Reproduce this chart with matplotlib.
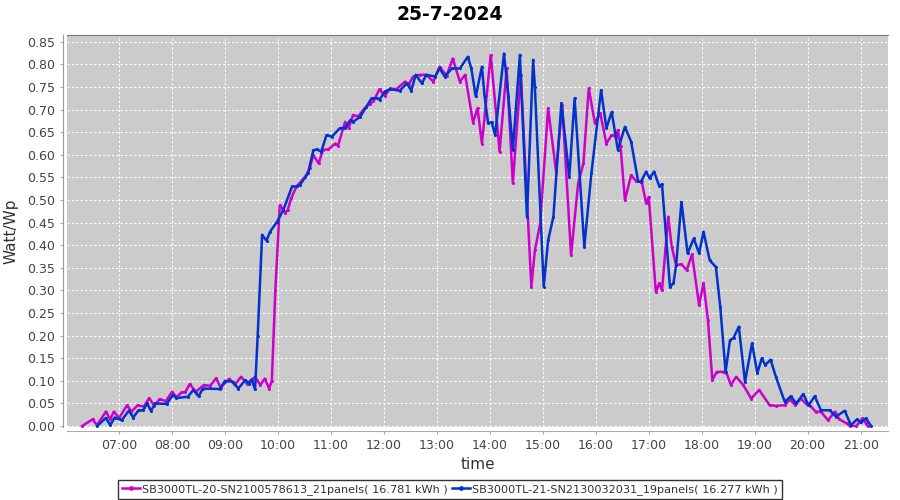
import matplotlib
matplotlib.use("Agg")
import matplotlib.pyplot as plt
from matplotlib.ticker import FixedLocator, FuncFormatter

title = "25-7-2024"
x_label = "time"
y_label = "Watt/Wp"
name_a = "SB3000TL-20-SN2100578613_21panels( 16.781 kWh )"
name_b = "SB3000TL-21-SN2130032031_19panels( 16.277 kWh )"

times_a = ["06:18", "06:30", "06:35", "06:45", "06:50", "06:54", "07:00", "07:09", "07:14", "07:21",
           "07:28", "07:34", "07:40", "07:46", "07:53", "08:00", "08:05", "08:11", "08:15", "08:20",
           "08:27", "08:36", "08:43", "08:50", "08:55", "09:05", "09:11", "09:18", "09:25", "09:34",
           "09:40", "09:45", "09:50", "09:53", "09:57", "10:02", "10:08", "10:11", "10:15", "10:21",
           "10:31", "10:36", "10:40", "10:46", "10:51", "10:57", "11:05", "11:08", "11:16", "11:20",
           "11:25", "11:31", "11:38", "11:44", "11:48", "11:55", "12:01", "12:07", "12:14", "12:24",
           "12:28", "12:33", "12:41", "12:48", "12:56", "13:03", "13:11", "13:18", "13:26", "13:32",
           "13:41", "13:46", "13:51", "14:01", "14:11", "14:19", "14:26", "14:35", "14:47", "14:51",
           "14:57", "15:06", "15:15", "15:22", "15:32", "15:40", "15:46", "15:52", "15:59", "16:05",
           "16:12", "16:18", "16:23", "16:25", "16:28", "16:33", "16:40", "16:46", "16:52", "16:57",
           "17:00", "17:08", "17:12", "17:15", "17:22", "17:26", "17:31", "17:37", "17:43", "17:49",
           "17:57", "18:02", "18:07", "18:12", "18:17", "18:24", "18:28", "18:33", "18:39", "18:47",
           "18:56", "19:05", "19:17", "19:24", "19:34", "19:40", "19:46", "19:52", "20:00", "20:03",
           "20:09", "20:15", "20:23", "20:31", "20:36", "20:44", "20:48", "20:55", "21:02", "21:06",
           "21:08"]
values_a = [0.000, 0.015, 0.002, 0.032, 0.015, 0.032, 0.018, 0.046, 0.032, 0.046,
            0.043, 0.062, 0.045, 0.060, 0.055, 0.076, 0.064, 0.075, 0.075, 0.093,
            0.076, 0.091, 0.089, 0.106, 0.085, 0.105, 0.091, 0.109, 0.094, 0.109,
            0.091, 0.105, 0.083, 0.100, 0.300, 0.489, 0.472, 0.478, 0.504, 0.530,
            0.552, 0.570, 0.600, 0.581, 0.611, 0.612, 0.625, 0.620, 0.673, 0.659,
            0.688, 0.685, 0.703, 0.713, 0.718, 0.745, 0.730, 0.747, 0.745, 0.762,
            0.755, 0.773, 0.777, 0.777, 0.762, 0.795, 0.775, 0.813, 0.762, 0.777,
            0.671, 0.703, 0.625, 0.821, 0.607, 0.791, 0.537, 0.777, 0.308, 0.389,
            0.448, 0.703, 0.563, 0.710, 0.378, 0.537, 0.581, 0.747, 0.670, 0.692,
            0.625, 0.644, 0.640, 0.655, 0.620, 0.500, 0.555, 0.541, 0.541, 0.493,
            0.507, 0.297, 0.316, 0.300, 0.463, 0.397, 0.356, 0.358, 0.345, 0.380,
            0.268, 0.316, 0.235, 0.102, 0.120, 0.120, 0.118, 0.091, 0.109, 0.091,
            0.061, 0.080, 0.046, 0.045, 0.046, 0.059, 0.046, 0.061, 0.046, 0.045,
            0.032, 0.032, 0.013, 0.032, 0.015, 0.006, 0.000, 0.000, 0.017, 0.006,
            0.000]

times_b = ["06:35", "06:45", "06:50", "06:55", "07:03", "07:11", "07:16", "07:22", "07:27", "07:32",
           "07:36", "07:41", "07:54", "08:01", "08:05", "08:18", "08:24", "08:30", "08:35", "08:54",
           "09:00", "09:09", "09:15", "09:23", "09:27", "09:30", "09:34", "09:37", "09:42", "09:47",
           "09:51", "09:59", "10:06", "10:16", "10:21", "10:25", "10:34", "10:40", "10:44", "10:49",
           "10:55", "11:01", "11:10", "11:16", "11:22", "11:25", "11:33", "11:40", "11:46", "11:52",
           "11:55", "12:01", "12:07", "12:18", "12:26", "12:31", "12:36", "12:43", "12:48", "12:58",
           "13:03", "13:09", "13:17", "13:26", "13:35", "13:39", "13:44", "13:51", "13:54", "13:58",
           "14:02", "14:06", "14:16", "14:21", "14:26", "14:34", "14:42", "14:49", "14:51", "15:01",
           "15:06", "15:12", "15:21", "15:30", "15:36", "15:47", "15:55", "16:06", "16:12", "16:18",
           "16:25", "16:33", "16:40", "16:48", "16:51", "16:57", "17:01", "17:06", "17:12", "17:15",
           "17:24", "17:28", "17:31", "17:37", "17:44", "17:51", "17:57", "18:02", "18:09", "18:16",
           "18:21", "18:27", "18:32", "18:36", "18:42", "18:49", "18:57", "19:03", "19:08", "19:12",
           "19:18", "19:24", "19:34", "19:41", "19:47", "19:55", "20:01", "20:08", "20:15", "20:25",
           "20:32", "20:42", "20:49", "20:56", "21:00", "21:06", "21:12"]
values_b = [0.000, 0.018, 0.002, 0.019, 0.013, 0.034, 0.019, 0.035, 0.035, 0.050,
            0.034, 0.050, 0.049, 0.069, 0.062, 0.065, 0.080, 0.066, 0.083, 0.082,
            0.100, 0.098, 0.083, 0.102, 0.094, 0.103, 0.081, 0.200, 0.423, 0.410,
            0.430, 0.452, 0.478, 0.530, 0.530, 0.534, 0.559, 0.610, 0.612, 0.607,
            0.644, 0.640, 0.659, 0.659, 0.677, 0.673, 0.684, 0.706, 0.725, 0.725,
            0.722, 0.740, 0.745, 0.742, 0.758, 0.742, 0.777, 0.758, 0.777, 0.773,
            0.791, 0.773, 0.791, 0.791, 0.817, 0.791, 0.729, 0.795, 0.730, 0.670,
            0.672, 0.644, 0.824, 0.730, 0.611, 0.821, 0.463, 0.810, 0.750, 0.308,
            0.411, 0.463, 0.714, 0.552, 0.725, 0.397, 0.559, 0.743, 0.659, 0.695,
            0.611, 0.662, 0.629, 0.541, 0.540, 0.563, 0.548, 0.563, 0.530, 0.535,
            0.308, 0.316, 0.356, 0.496, 0.382, 0.415, 0.382, 0.430, 0.367, 0.352,
            0.264, 0.120, 0.190, 0.195, 0.220, 0.098, 0.183, 0.117, 0.150, 0.135,
            0.147, 0.109, 0.054, 0.066, 0.050, 0.071, 0.046, 0.066, 0.035, 0.035,
            0.021, 0.034, 0.002, 0.015, 0.008, 0.017, 0.000]

x_ticks = ["07:00", "08:00", "09:00", "10:00", "11:00", "12:00", "13:00", "14:00",
           "15:00", "16:00", "17:00", "18:00", "19:00", "20:00", "21:00"]
y_ticks = [0.00, 0.05, 0.10, 0.15, 0.20, 0.25, 0.30, 0.35, 0.40, 0.45,
           0.50, 0.55, 0.60, 0.65, 0.70, 0.75, 0.80, 0.85]


def to_hours(s):
    h, m = s.split(":")
    return int(h) + int(m) / 60.0


def fmt_time(v, pos):
    h = int(round(v * 60)) // 60
    m = int(round(v * 60)) % 60
    return f"{h:02d}:{m:02d}"


ta = [to_hours(t) for t in times_a]
tb = [to_hours(t) for t in times_b]

fig = plt.figure(figsize=(9, 5), dpi=100)
ax = fig.add_axes([67 / 900, 1 - 427 / 500, 821 / 900, 392 / 500])
ax.set_facecolor("#cbcbcb")

col_a = "#cc00cc"
col_b = "#0033cc"
ax.plot(ta, values_a, color=col_a, lw=1.8, marker="o", ms=1.2, label=name_a, zorder=3)
ax.plot(tb, values_b, color=col_b, lw=1.8, marker="o", ms=1.2, label=name_b, zorder=4)

ax.set_xlim(to_hours("06:01"), to_hours("21:31"))
ax.set_ylim(-0.002, 0.865)
ax.xaxis.set_major_locator(FixedLocator([to_hours(t) for t in x_ticks]))
ax.xaxis.set_major_formatter(FuncFormatter(fmt_time))
ax.yaxis.set_major_locator(FixedLocator(y_ticks))
ax.yaxis.set_major_formatter(FuncFormatter(lambda v, p: f"{v:.2f}"))

ax.grid(True, color="white", linestyle=(0, (2, 2)), linewidth=0.8)
ax.set_axisbelow(True)

ax.spines["top"].set_color("#777777")
ax.spines["right"].set_visible(False)
ax.spines["left"].set_color("#999999")
ax.spines["bottom"].set_color("#aaaaaa")
ax.spines["left"].set_position(("outward", 3))
ax.spines["bottom"].set_position(("outward", 3))
ax.tick_params(axis="both", colors="#aaaaaa", labelcolor="#444444", labelsize=9, length=2)

ax.set_xlabel(x_label, fontsize=11, color="#333333", labelpad=4)
ax.set_ylabel(y_label, fontsize=11, color="#333333", labelpad=6)
fig.text(0.5, 0.972, title, ha="center", va="center", fontsize=13.5, fontweight="bold")

leg = fig.legend(loc="lower center", bbox_to_anchor=(0.4999, 0.003), ncol=2, frameon=True,
                 fontsize=8.1, fancybox=False, edgecolor="black", handlelength=1.6,
                 handletextpad=0.2, columnspacing=0.3, borderpad=0.35, borderaxespad=0,
                 markerscale=2)
leg.get_frame().set_linewidth(1.0)
for t in leg.get_texts():
    t.set_color("#333333")

fig.savefig("out.png", dpi=100)
